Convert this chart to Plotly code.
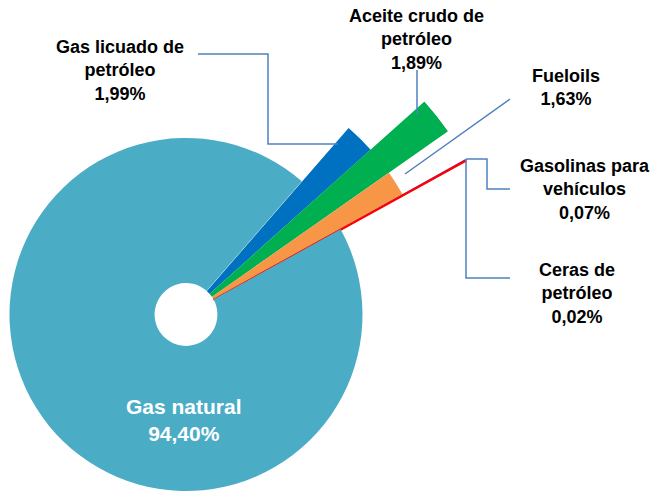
import math
import plotly.graph_objects as go

W, H = 654, 491
OFF = 0  # body margin removed via post_script, so page pixels == figure pixels

# ---- data ----
categories = ["Gas licuado de petróleo", "Aceite crudo de petróleo", "Fueloils",
              "Gasolinas para vehículos", "Ceras de petróleo", "Gas natural"]
label_lines = [["Gas licuado de", "petróleo"], ["Aceite crudo de", "petróleo"], ["Fueloils"],
               ["Gasolinas para", "vehículos"], ["Ceras de", "petróleo"], ["Gas natural"]]
shares = [1.99, 1.89, 1.63, 0.07, 0.02, 94.40]

# ---- styling ----
colors = ["#0070C0", "#00B050", "#F79646", "#7030A0", "#FF0000", "#4BACC6"]
extension = [0.75, 1.0, 0.75, 1.0, 1.0]   # radial length of the highlighted slices
start_angle = 49                         # screen angle (deg, ccw from east) of first slice edge
cx, cy = 186, 315                        # pie centre in page pixels
r_main, r_hole, r_big = 177, 31.5, 320


def px(x):
    return (x - OFF) / W


def py(y):
    return 1 - (y - OFF) / H


fig = go.Figure()

# main pie (only Gas natural visible; the others are drawn as extended polar bars)
pie_colors = ["rgba(0,0,0,0)"] * 5 + [colors[5]]
fig.add_trace(go.Pie(
    labels=categories, values=shares, sort=False, direction="clockwise",
    rotation=90 - start_angle, hole=r_hole / r_main,
    marker=dict(colors=pie_colors, line=dict(width=0)),
    textinfo="none", hoverinfo="label+percent",
    domain=dict(x=[px(cx - r_main), px(cx + r_main)],
                y=[max(0, py(cy + r_main)), min(1, py(cy - r_main))]),
    showlegend=False,
))

# highlighted small slices as polar bars
widths, centers = [], []
cum = 0.0
for v in shares[:5]:
    w = v * 3.6
    widths.append(w)
    centers.append(cum + w / 2)
    cum += w

line_w = [0, 0, 0, 0, 2]
for i in range(5):
    fig.add_trace(go.Barpolar(
        r=[extension[i]], theta=[centers[i]], width=[widths[i]], base=0,
        marker=dict(color=colors[i], line=dict(color=colors[i], width=line_w[i])),
        name=categories[i], showlegend=False, hoverinfo="name",
    ))

sec = [25, 55]
bw = math.cos(math.radians(sec[0])) * r_big
bh = math.sin(math.radians(sec[1])) * r_big

fig.update_layout(
    width=W, height=H,
    margin=dict(l=0, r=0, t=0, b=0),
    paper_bgcolor="white", plot_bgcolor="white",
    showlegend=False,
    polar=dict(
        domain=dict(x=[px(cx), px(cx + bw)], y=[py(cy), py(cy - bh)]),
        sector=sec, hole=r_hole / r_big, bgcolor="rgba(0,0,0,0)",
        radialaxis=dict(range=[0, 1], visible=False, showgrid=False, showline=False,
                        showticklabels=False, ticks=""),
        angularaxis=dict(visible=False, rotation=start_angle, direction="clockwise",
                         showgrid=False, showline=False, showticklabels=False, ticks=""),
    ),
    bargap=0,
)

# labels
label_pos = [(120, 70), (417, 40), (566, 88), (585, 189), (577, 293), (184, 420)]
for i in range(6):
    txt = "<br>".join(label_lines[i] + [f"{shares[i]:.2f}".replace(".", ",") + "%"])
    is_main = i == 5
    fig.add_annotation(
        x=px(label_pos[i][0]), y=py(label_pos[i][1]), xref="paper", yref="paper",
        text=txt, showarrow=False, xanchor="center", yanchor="middle", align="center",
        font=dict(family="Liberation Sans, Arial, sans-serif", size=21 if is_main else 18,
                  color="white" if is_main else "black", weight="bold"),
    )

# leader lines
leaders = [
    [(198, 54), (268, 54), (268, 144), (338, 144)],
    [(417, 70), (417, 114)],
    [(510, 99), (405, 174)],
    [(466, 159), (487, 159), (487, 189), (510, 189)],
    [(466, 159), (466, 278), (510, 278)],
]
for pts in leaders:
    path = "M " + " L ".join(f"{px(x):.5f},{py(y):.5f}" for x, y in pts)
    fig.add_shape(type="path", path=path, xref="paper", yref="paper",
                  line=dict(color="#4F81BD", width=1.5))

fig.write_html("out.html", config={"displayModeBar": False},
               post_script="document.body.style.margin = '0px';")
